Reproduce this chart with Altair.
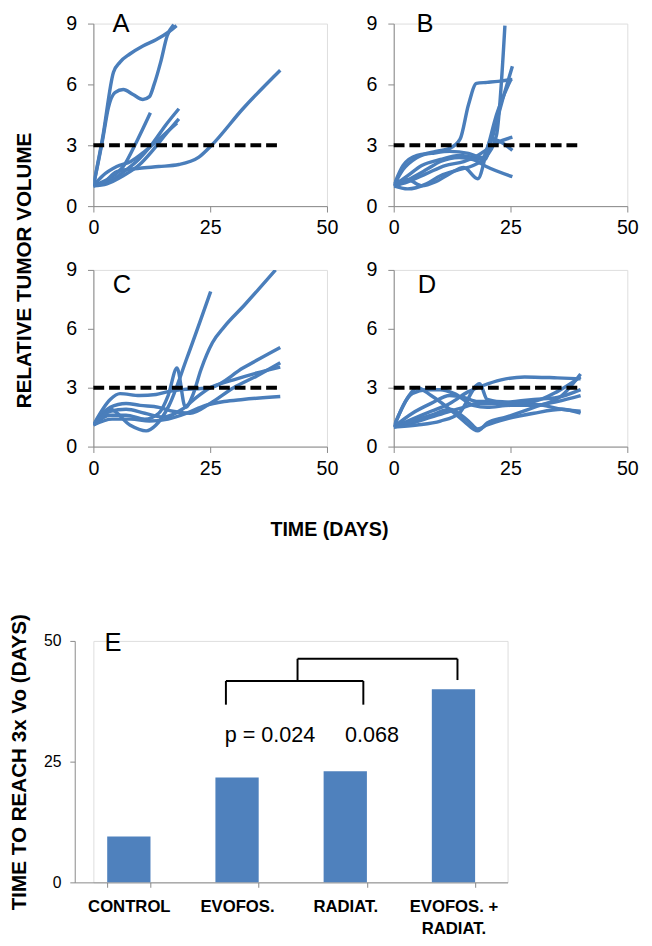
import altair as alt
import pandas as pd

FONT = "Liberation Sans"
LINE_BLUE = "#4A7EBB"
BAR_BLUE = "#4F81BD"
GRAY = "#888888"

# ---------------- data: relative tumor volume curves (day, relative volume) ----------------
A_CURVES = {
    "a1": ([0, 2, 4.3, 5.7, 7.8, 10.6, 13.4, 16.2, 17.8],
           [1.0, 3.4, 6.6, 7.1, 7.5, 7.9, 8.2, 8.6, 8.9]),
    "a2": ([0, 2, 3.2, 4.6, 6.4, 8.5, 10.6, 12, 13, 14.4, 15.8, 17.2],
           [1.0, 3.3, 4.85, 5.6, 5.75, 5.5, 5.26, 5.4, 6.0, 7.1, 8.4, 8.95]),
    "a3": ([0, 3.6, 6.4, 9.3, 12.2], [1.0, 1.4, 1.95, 3.2, 4.6]),
    "a4": ([0, 3.6, 7.1, 9.9, 12.7, 15.5, 18.3], [1.0, 1.25, 1.8, 2.35, 3.1, 4.0, 4.8]),
    "a5": ([0, 2.9, 6.4, 9.9, 12.7, 15.5, 18.3], [1.0, 1.1, 1.5, 2.05, 2.75, 3.55, 4.3]),
    "a6": ([0, 2, 5, 8, 11, 14.5, 17.9], [1.0, 1.5, 1.95, 2.2, 2.7, 3.4, 4.1]),
    "a7": ([0, 2.2, 5, 9.9, 14, 18.3, 22.5, 25.3, 32, 40],
           [1.0, 1.15, 1.7, 1.87, 1.95, 2.05, 2.4, 3.0, 4.8, 6.7]),
}
B_CURVES = {
    "b1": ([0, 3, 7, 10, 14, 17, 20, 22, 23.8], [1.0, 0.85, 1.1, 1.5, 1.8, 2.0, 2.5, 3.5, 8.9]),
    "b2": ([0, 2, 5, 9, 12, 14.2, 16, 17.7, 20, 22.3, 25.4],
           [1.0, 1.8, 2.4, 2.7, 2.85, 3.3, 5.0, 6.05, 6.1, 6.15, 6.25]),
    "b3": ([0, 3, 6, 10, 14, 17, 19.5, 21, 23, 25.4], [1.0, 1.5, 2.0, 2.3, 2.5, 2.4, 2.3, 3.3, 5.0, 6.9]),
    "b4": ([0, 3, 7, 11, 15, 18, 20, 22, 25.4], [1.0, 1.2, 1.6, 2.0, 2.2, 2.5, 2.8, 3.1, 3.4]),
    "b5": ([0, 2, 5, 8, 12, 16, 19, 21, 25.4], [1.0, 2.0, 2.5, 2.6, 2.7, 2.6, 2.4, 3.3, 2.75]),
    "b6": ([0, 3, 7, 10, 14, 17, 19.8, 25.4], [1.0, 1.3, 1.8, 2.2, 2.4, 2.3, 1.95, 1.45]),
    "b7": ([0, 3, 6, 9, 12, 15, 18, 20, 22, 25], [1.1, 1.3, 1.0, 1.2, 1.6, 1.9, 1.35, 2.8, 4.5, 6.2]),
}
C_CURVES = {
    "c1": ([0, 3.6, 7.8, 11.3, 13.4, 16.2, 20, 25.1], [1.1, 1.9, 1.1, 0.8, 1.1, 2.1, 4.5, 7.9]),
    "c2": ([0, 3.6, 7, 11, 14, 16, 17.9, 19.7, 21.4, 23, 25.5, 28, 32.3, 39],
           [1.1, 1.6, 1.6, 1.4, 1.7, 2.6, 4.0, 2.0, 2.7, 3.9, 5.3, 6.1, 7.2, 9.0]),
    "c3": ([0, 3.6, 5.7, 9.9, 13.4, 16, 19, 22, 25, 32, 40],
           [1.1, 2.4, 2.7, 2.6, 2.65, 2.8, 2.9, 2.95, 3.0, 4.0, 5.05]),
    "c4": ([0, 3.6, 7, 10, 14, 17, 20.7, 25, 30, 35, 40],
           [1.1, 2.0, 2.2, 2.1, 2.0, 1.8, 1.7, 2.2, 3.0, 3.6, 4.27]),
    "c5": ([0, 3.6, 7, 11, 15, 19, 22, 25, 30, 35, 40],
           [1.1, 1.8, 1.9, 1.7, 1.5, 1.9, 2.5, 3.0, 3.4, 3.75, 4.05]),
    "c6": ([0, 4, 8, 12, 16, 20, 24, 28, 32, 40], [1.1, 1.4, 1.4, 1.3, 1.4, 1.7, 2.1, 2.3, 2.4, 2.55]),
}
D_CURVES = {
    "d1": ([0, 4, 8, 12, 16, 19, 23, 28, 35, 40], [1.0, 1.4, 1.8, 2.2, 2.8, 3.1, 3.4, 3.55, 3.5, 3.45]),
    "d2": ([0, 3, 5, 8, 12, 15, 18, 20, 24, 30, 36, 40],
           [1.0, 2.5, 3.0, 2.6, 1.9, 1.3, 0.8, 1.2, 1.5, 2.0, 2.6, 3.7]),
    "d3": ([0, 4, 7, 10, 13, 17, 20, 25, 30, 35, 40], [1.0, 2.7, 2.9, 2.9, 2.7, 2.1, 2.0, 2.1, 2.1, 2.3, 2.6]),
    "d4": ([0, 4, 8, 12, 15, 18, 22, 27, 32, 36, 40], [1.0, 1.7, 2.2, 2.6, 2.5, 2.3, 2.3, 2.2, 2.1, 1.9, 1.8]),
    "d5": ([0, 4, 8, 12, 15, 18, 22, 26, 30, 35, 40], [1.0, 1.2, 1.5, 1.8, 2.0, 2.2, 2.2, 2.3, 2.4, 2.5, 2.9]),
    "d6": ([0, 4, 8, 12, 16, 18, 20, 24, 30, 36, 40], [1.0, 1.3, 1.6, 1.9, 1.3, 0.9, 1.1, 1.4, 1.7, 1.9, 1.7]),
    "d7": ([0, 5, 10, 14, 18.4, 20, 25, 30, 35, 40], [1.0, 1.1, 1.3, 1.7, 3.2, 2.4, 2.2, 2.3, 2.8, 3.55]),
}
THRESHOLD = 3
THRESHOLD_END_DAY = 40
PANEL_LETTERS = ["A", "B", "C", "D"]
LETTER_DAY = [5.9, 6.7, 6.1, 7.1]
LETTER_VOL = [8.95, 8.95, 8.2, 8.2]
X_TICKS = [0, 25, 50]
Y_TICKS = [0, 3, 6, 9]

# ---------------- data: bar chart E ----------------
GROUPS = ["CONTROL", "EVOFOS.", "RADIAT.", "EVOFOS. + RADIAT."]
DAYS_TO_3X = [9.5, 21.7, 23.0, 40.0]
E_TICKS = [0, 25, 50]
# bracket segments in category units (category i centred at i + 0.5)
BR_X1 = [1.397, 1.397, 2.667, 2.059, 2.059, 3.537]
BR_X2 = [2.667, 1.397, 2.667, 3.537, 2.059, 3.537]
BR_Y1 = [41.7, 41.7, 41.7, 46.3, 46.3, 46.3]
BR_Y2 = [41.7, 36.8, 36.8, 46.3, 41.7, 41.9]
P_TEXT = ["p = 0.024", "0.068"]
P_POS = [1.805, 2.748]
P_VAL = [30.5, 30.5]


def curves_df(curves):
    rows = []
    for cid, (days, vols) in curves.items():
        for i, (d, v) in enumerate(zip(days, vols)):
            rows.append({"curve": cid, "day": d, "vol": v, "order": i})
    return pd.DataFrame(rows)


def panel(idx, curves, height, y_title=None, x_title=None):
    ax_common = dict(domainColor=GRAY, tickColor=GRAY, tickSize=6, labelFont=FONT,
                     labelFontSize=20, labelColor="black", grid=False,
                     titleFont=FONT, titleFontWeight="bold", titleColor="black")
    if x_title:
        xaxis = alt.Axis(values=X_TICKS, labelFlush=False, labelPadding=6, title=x_title,
                         titleFontSize=20, titleX=240, titleY=85, titleAlign="center",
                         titleBaseline="middle", **ax_common)
    else:
        xaxis = alt.Axis(values=X_TICKS, labelFlush=False, labelPadding=6, title=None, **ax_common)
    if y_title:
        yaxis = alt.Axis(values=Y_TICKS, labelPadding=11, title=y_title, titleFontSize=21,
                         titleX=-70, titleY=251, titleAngle=270, titleAlign="center",
                         titleBaseline="middle", **ax_common)
    else:
        yaxis = alt.Axis(values=Y_TICKS, labelPadding=11, title=None, **ax_common)
    xs = alt.Scale(domain=[0, 50], nice=False)
    ys = alt.Scale(domain=[0, 9], nice=False)

    def X():
        return alt.X("day:Q", scale=xs, axis=xaxis)

    def Y():
        return alt.Y("vol:Q", scale=ys, axis=yaxis)

    lines = alt.Chart(curves_df(curves)).mark_line(
        interpolate="monotone", strokeWidth=3.5, color=LINE_BLUE, clip=True
    ).encode(x=X(), y=Y(), detail="curve:N", order="order:Q")
    thr_df = pd.DataFrame({"day": [0], "day2": [THRESHOLD_END_DAY], "vol": [THRESHOLD]})
    thr = alt.Chart(thr_df).mark_rule(color="black", strokeWidth=4, strokeDash=[11, 5]).encode(
        x=X(), x2="day2:Q", y=Y())
    lab_df = pd.DataFrame({"day": [LETTER_DAY[idx]], "vol": [LETTER_VOL[idx]], "t": [PANEL_LETTERS[idx]]})
    lab = alt.Chart(lab_df).mark_text(font=FONT, fontSize=26, align="center", baseline="middle",
                                      color="black").encode(x=X(), y=Y(), text="t:N")
    return alt.layer(lines, thr, lab).properties(width=238, height=height)


pA = panel(0, A_CURVES, 186, y_title="RELATIVE TUMOR VOLUME")
pB = panel(1, B_CURVES, 186)
pC = panel(2, C_CURVES, 180, x_title="TIME (DAYS)")
pD = panel(3, D_CURVES, 180)

grid = alt.concat(pA, pB, pC, pD, columns=2, spacing={"row": 65, "column": 68}, bounds="flush")

# ---------------- chart E ----------------
E_RANGE = [-19, 422]
ey_axis = alt.Axis(values=E_TICKS, offset=19, domainColor=GRAY, tickColor=GRAY, tickSize=5,
                   labelFont=FONT, labelFontSize=16, labelColor="black", labelPadding=9, grid=False,
                   title="TIME TO REACH 3x Vo (DAYS)", titleFont=FONT, titleFontSize=21,
                   titleFontWeight="bold", titleColor="black", titleX=-56, titleY=123,
                   titleAngle=270, titleAlign="center", titleBaseline="middle")
ey_scale = alt.Scale(domain=[0, 50], nice=False)


def EY(field="days"):
    return alt.Y(f"{field}:Q", scale=ey_scale, axis=ey_axis)


bars = alt.Chart(pd.DataFrame({"group": GROUPS, "days": DAYS_TO_3X})).mark_bar(color=BAR_BLUE).encode(
    x=alt.X("group:N", sort=GROUPS,
            scale=alt.Scale(range=E_RANGE, paddingInner=0.6, paddingOuter=0.3),
            axis=alt.Axis(title=None, labelAngle=0, tickBand="extent", domainColor=GRAY,
                          tickColor=GRAY, tickSize=5, labelFont=FONT, labelFontSize=17,
                          labelFontWeight="bold", labelColor="black", labelPadding=12,
                          labelLineHeight=22,
                          labelExpr="datum.label == 'EVOFOS. + RADIAT.' ? ['EVOFOS. +', 'RADIAT.'] : datum.label")),
    y=EY(),
)
pos_scale = alt.Scale(domain=[0, 4], range=E_RANGE, nice=False, zero=False)
br_df = pd.DataFrame({"pos": BR_X1, "pos2": BR_X2, "days": BR_Y1, "days2": BR_Y2})
brackets = alt.Chart(br_df).mark_rule(color="black", strokeWidth=2).encode(
    x=alt.X("pos:Q", scale=pos_scale, axis=None), x2="pos2:Q", y=EY(), y2="days2:Q")
ptext = alt.Chart(pd.DataFrame({"pos": P_POS, "days": P_VAL, "t": P_TEXT})).mark_text(
    font=FONT, fontSize=22, align="center", baseline="middle", color="black").encode(
    x=alt.X("pos:Q", scale=pos_scale, axis=None), y=EY(), text="t:N")
eletter = alt.Chart(pd.DataFrame({"pos": [0.354], "days": [49.6], "t": ["E"]})).mark_text(
    font=FONT, fontSize=26, align="center", baseline="middle", color="black").encode(
    x=alt.X("pos:Q", scale=pos_scale, axis=None), y=EY(), text="t:N")

chartE = alt.layer(bars, brackets, ptext, eletter).resolve_scale(x="independent").properties(
    width=422, height=246)

chart = alt.vconcat(grid, chartE, spacing=73).properties(
    padding={"left": 0, "top": -6, "right": 5, "bottom": 2}
).configure_view(stroke=None).configure(background="white")

chart.save("out.html", embed_options={"renderer": "svg", "actions": False})
